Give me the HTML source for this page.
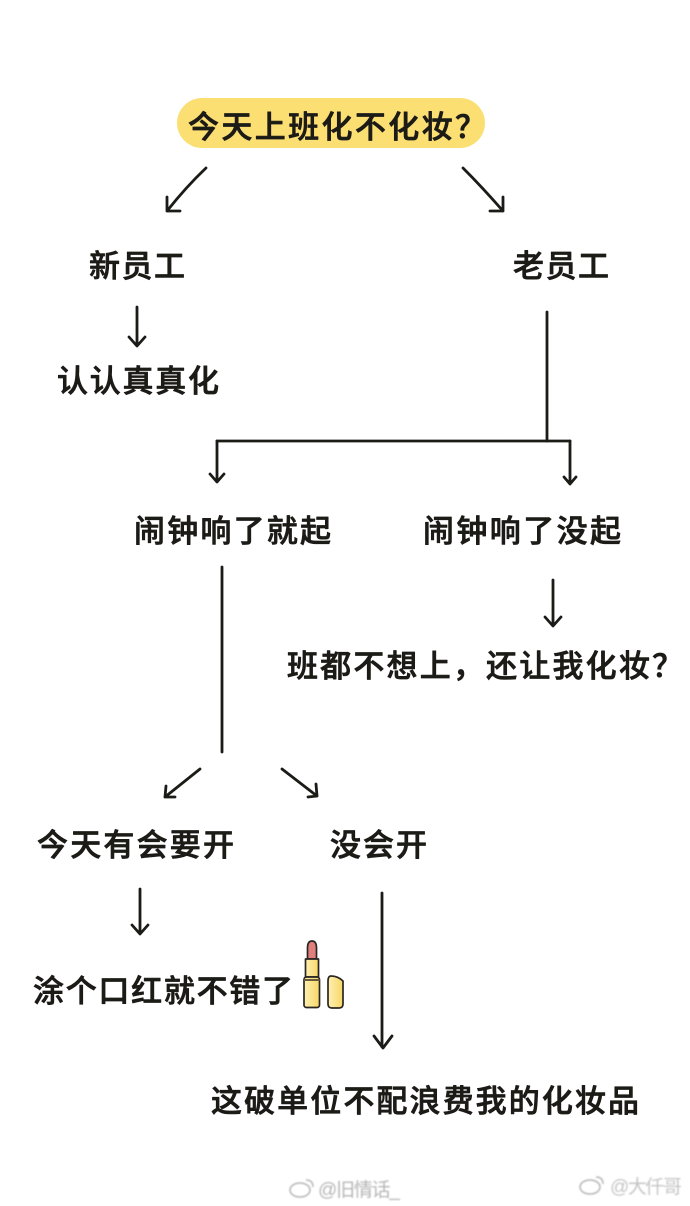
<!DOCTYPE html>
<html lang="zh">
<head>
<meta charset="utf-8">
<title>今天上班化不化妆？</title>
<style>
html,body{margin:0;padding:0;background:#fff;width:690px;height:1206px;overflow:hidden}
svg{display:block}
text.t{font-family:"Liberation Sans","Noto Sans CJK SC",sans-serif;font-size:31px;font-weight:500;fill:#1c1a18;stroke:#1c1a18;stroke-width:.7;stroke-linejoin:round}
tspan.p{font-family:"Noto Sans CJK TC",sans-serif}
text.w{font-family:"Liberation Sans","Noto Sans CJK SC",sans-serif;font-size:19px;fill:#b5b5b5}
.l{fill:none;stroke:#1c1a18;stroke-width:2.8;stroke-linecap:round;stroke-linejoin:round}
.k{stroke:#2a2622;stroke-width:1.7;stroke-linejoin:round}
</style>
</head>
<body>
<svg width="690" height="1206" viewBox="0 0 690 1206" xmlns="http://www.w3.org/2000/svg">
<defs>
<filter id="b" x="-10%" y="-30%" width="120%" height="160%"><feGaussianBlur stdDeviation="0.8"/></filter>
<filter id="s" x="-2%" y="-2%" width="104%" height="104%"><feGaussianBlur stdDeviation="0.35"/></filter>
<linearGradient id="g" x1="0" x2="1" y1="0" y2="0"><stop offset="0" stop-color="#fdf0b4"/><stop offset="1" stop-color="#f7d765"/></linearGradient>
</defs>
<rect width="690" height="1206" fill="#fff"/>
<rect x="177" y="98" width="308" height="50" rx="25" fill="#fbdf72"/>

<g filter="url(#s)">
<text class="t" x="188" y="138" textLength="298" lengthAdjust="spacing">今天上班化不化妆<tspan class="p">？</tspan></text>
<text class="t" x="89" y="277" textLength="96" lengthAdjust="spacing">新员工</text>
<text class="t" x="513" y="277" textLength="96" lengthAdjust="spacing">老员工</text>
<text class="t" x="57" y="392" textLength="162" lengthAdjust="spacing">认认真真化</text>
<text class="t" x="134" y="542" textLength="197" lengthAdjust="spacing">闹钟响了就起</text>
<text class="t" x="423" y="542" textLength="198" lengthAdjust="spacing">闹钟响了没起</text>
<text class="t" x="287" y="677" textLength="396" lengthAdjust="spacing">班都不想上<tspan class="p">，</tspan>还让我化妆<tspan class="p">？</tspan></text>
<text class="t" x="37" y="856" textLength="197" lengthAdjust="spacing">今天有会要开</text>
<text class="t" x="330" y="856" textLength="97" lengthAdjust="spacing">没会开</text>
<text class="t" x="33" y="1002" textLength="260" lengthAdjust="spacing">涂个口红就不错了</text>
<text class="t" x="211" y="1112" textLength="428" lengthAdjust="spacing">这破单位不配浪费我的化妆品</text>

<!-- top arrows -->
<path class="l" d="M206 168 Q186 187 167 211 M167 197 L167 211 L180 211"/>
<path class="l" d="M463 168 Q482 187 503 211 M503 197 L503 211 L490 211"/>
<!-- new employee arrow -->
<path class="l" d="M137 307 V345 M129 337 L137 346 L145 337"/>
<!-- old employee tree -->
<path class="l" d="M547 312 V441"/>
<path class="l" d="M217 441 H570"/>
<path class="l" d="M217 441 V482 M210 474 L217 482 L224 474"/>
<path class="l" d="M570 441 V484 M564 477 L570 484 L576 477"/>
<!-- right arrow -->
<path class="l" d="M553 580 V625 M545 617 L553 626 L561 617"/>
<!-- long stem -->
<path class="l" d="M222 567 V752"/>
<path class="l" d="M200 769 L165 797 M166 786 L165 797 L175 797"/>
<path class="l" d="M282 769 L317 796 M316 784 L317 796 L308 797"/>
<!-- meeting arrow -->
<path class="l" d="M140 889 V933 M132 925 L140 934 L148 925"/>
<!-- no meeting arrow -->
<path class="l" d="M382 893 V1047 M374 1036 L383 1048 L392 1036"/>

<!-- lipstick -->
<path d="M307.500 959 V948 Q307.500 941 312 941 Q316.500 941 316.500 948 V959 Z" fill="#e07f7c" class="k"/>
<rect x="305.500" y="959" width="13" height="18" fill="url(#g)" class="k"/>
<rect x="304" y="977" width="15.500" height="30.500" rx="2.500" fill="url(#g)" class="k"/>
<path d="M304 980 H319.500" stroke="#6b5a3a" stroke-width="2" fill="none"/>
<path d="M328 981 Q328 976 331 976 Q338 976 343 981 V1004 Q343 1008 339 1008 H332 Q328 1008 328 1004 Z" fill="url(#g)" class="k"/>
</g>

<!-- watermarks -->
<g filter="url(#b)">
<ellipse cx="300" cy="1190" rx="10" ry="7" fill="none" stroke="#b5b5b5" stroke-width="1.500"/>
<path d="M306 1180 Q313 1180 313 1187" fill="none" stroke="#b5b5b5" stroke-width="1.500"/>
<text class="w" x="318" y="1196" textLength="82" lengthAdjust="spacing">@旧情话_</text>
<ellipse cx="590" cy="1187" rx="10" ry="7" fill="none" stroke="#b5b5b5" stroke-width="1.500"/>
<path d="M596 1177 Q603 1177 603 1184" fill="none" stroke="#b5b5b5" stroke-width="1.500"/>
<text class="w" x="610" y="1193" textLength="72" lengthAdjust="spacing" fill-opacity=".8">@大仟哥</text>
</g>
</svg>
</body>
</html>
